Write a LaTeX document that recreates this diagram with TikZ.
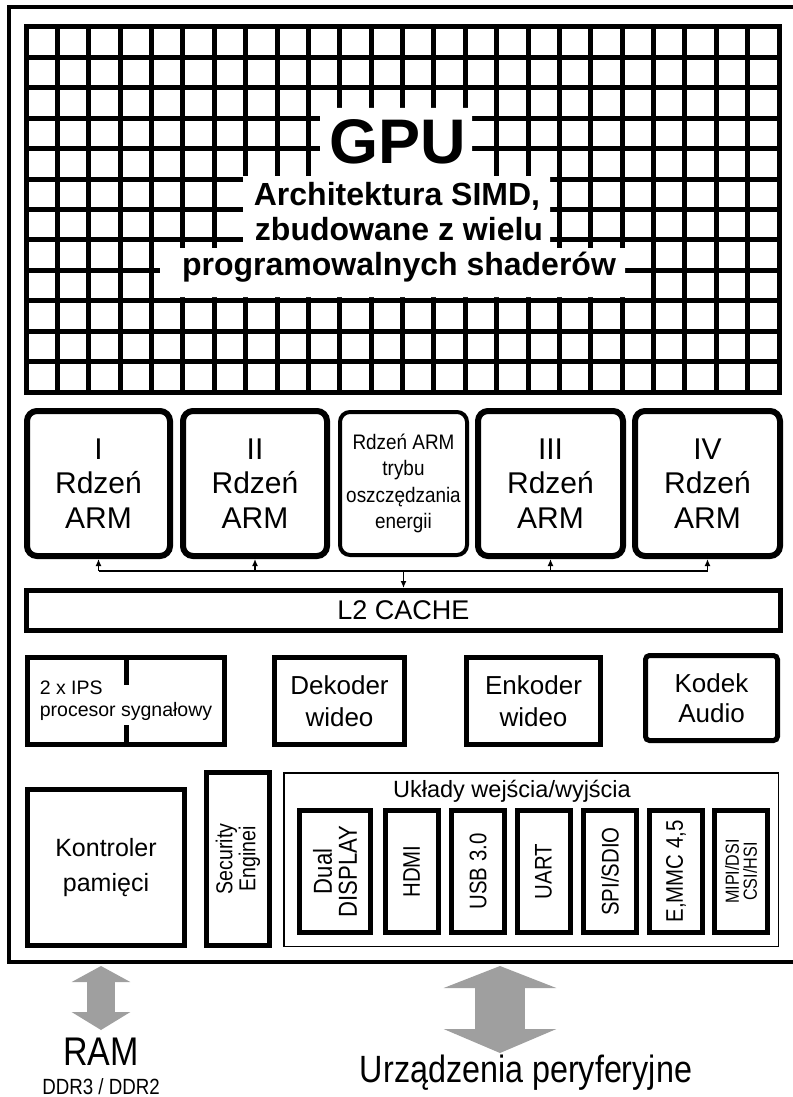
\documentclass[tikz,border=0pt]{standalone}
\usepackage{fontspec}
\setmainfont{Liberation Sans}
\newfontfamily\narrowsf[FakeStretch=0.85]{Liberation Sans}
\newfontfamily\semisf[FakeStretch=0.9]{Liberation Sans}
\usetikzlibrary{positioning,arrows.meta}

\begin{document}
\begin{tikzpicture}[x=0.5pt,y=-0.5pt,
  core/.style={draw,line width=3pt,rounded corners=5pt,minimum width=72.5pt,minimum height=72.5pt,align=center,inner sep=0pt,font=\fontsize{15}{17.25}\selectfont},
  blk/.style={draw,line width=2.5pt,align=center,inner sep=0pt,minimum height=43.5pt,font=\fontsize{13}{16}\selectfont},
  io/.style={draw,line width=2.5pt,rotate=90,minimum width=61pt,minimum height=26.5pt,align=center,inner sep=0pt,font=\narrowsf\fontsize{12}{12}\selectfont},
  grid/.style={line width=2.5pt},
  bus/.style={line width=0.75pt},
  tip/.style={-{Latex[length=3.5pt,width=3pt]}},
  fatram/.style={draw=gray!75,line width=14pt,{Triangle[length=8pt,width=29pt]}-{Triangle[length=9pt,width=29pt]}},
  fatdev/.style={draw=gray!75,line width=25pt,{Triangle[length=11pt,width=56pt]}-{Triangle[length=12pt,width=56pt]}}
]
\useasboundingbox (0,0) rectangle (792,1097);

% chip outline, right side runs off the page
\draw[line width=2pt] (830,7) -- (9,7) -- (9,962) -- (830,962);

% GPU
\draw[grid] (26,27) rectangle (779,392);
\foreach \i in {1,...,23}
  \draw[grid] (26+\i*31.375,27) -- (26+\i*31.375,392);
\foreach \j in {1,...,11}
  \draw[grid] (26,27+\j*30.417) -- (779,27+\j*30.417);
\fill[white] (320,108) -- (472,108) -- (472,176) -- (550,176) -- (550,248) -- (625,248)
  -- (625,297) -- (160,297) -- (160,248) -- (243,248) -- (243,176) -- (320,176) -- cycle;
\node[anchor=base,inner sep=0pt,font=\bfseries\fontsize{31.5}{32}\selectfont] (gpu) at (397.5,163) {GPU};
\node[anchor=base,inner sep=0pt,font=\bfseries\fontsize{16}{17.5}\selectfont] (simd) at (397,205) {Architektura SIMD,};
\node[anchor=base,inner sep=0pt,font=\bfseries\fontsize{16}{17.5}\selectfont] (zbud) at (399,240) {zbudowane z wielu};
\node[anchor=base,inner sep=0pt,font=\bfseries\fontsize{16}{17.5}\selectfont] (shad) at (399,275) {programowalnych shaderów};

% rdzenie
\node[core,minimum width=71.5pt] (c1) at (98.5,483.5) {I\\Rdzeń\\ARM};
\node[core,minimum width=72pt] (c2) at (255,483.5) {II\\Rdzeń\\ARM};
\node[core,line width=2pt,minimum width=63.5pt,minimum height=71.5pt,font=\semisf\fontsize{10.5}{13.2}\selectfont] (ps) at (403.5,483.5) {Rdzeń ARM\\trybu\\oszczędzania\\energii};
\node[core] (c3) at (550.5,483.5) {III\\Rdzeń\\ARM};
\node[core] (c4) at (707.5,483.5) {IV\\Rdzeń\\ARM};

\node[blk,minimum width=377pt,minimum height=20pt,font=\fontsize{13.5}{16}\selectfont] (l2) at (403.5,610.5) {L2 CACHE};

\coordinate (bus) at (0,571);
\draw[bus] (c1.south |- bus) -- (c4.south |- bus);
\foreach \n in {c1,c2,c3,c4}
  \draw[bus,tip] (\n.south |- bus) -- (\n.south);
\draw[bus,tip] (ps.south |- bus) -- (l2.north);

% multimedia
\node[blk,minimum width=98.5pt,align=left,font=\fontsize{9.75}{11}\selectfont] (ips) at (126,701) {2 x IPS\\procesor sygnałowy};
\draw[line width=2.5pt] (ips.north) -- ++(0,29.5);
\draw[line width=2.5pt] (ips.south) -- ++(0,-22.5);
\node[blk,minimum width=65pt] (dek) at (339.5,701) {Dekoder\\wideo};
\node[blk,minimum width=67pt] (enk) at (533.5,701) {Enkoder\\wideo};
\node[blk,minimum width=66pt,minimum height=42.5pt,rounded corners=2pt,font=\fontsize{13}{15}\selectfont] (kod) at (711.5,698) {Kodek\\Audio};

% pamiec i I/O
\node[blk,minimum width=78.5pt,minimum height=78pt,font=\fontsize{12.5}{17.5}\selectfont] (mem) at (106,867.5) {Kontroler\\pamięci};
\node[blk,rotate=90,minimum width=86.5pt,minimum height=31.5pt,font=\narrowsf\fontsize{11.5}{11.5}\selectfont] (sec) at (238,859) {Security\\Enginei};
\node[draw,line width=0.75pt,inner sep=0pt,minimum width=247.25pt,minimum height=86.75pt] (ioall) at (531,859.5) {};
\node[anchor=base,inner sep=0pt,font=\fontsize{11.75}{14}\selectfont] (iotitle) at (512,797) {Układy wejścia/wyjścia};

\node[io,minimum height=35.5pt,font=\narrowsf\fontsize{13}{12.5}\selectfont] (disp) at (335,871.5) {Dual\\DISPLAY};
\node[io] (hdmi) at (411.5,871.5) {HDMI};
\node[io] (usb) at (478,871.5) {USB 3.0};
\node[io] (uart) at (543.5,871.5) {UART};
\node[io] (spi) at (610,871.5) {SPI/SDIO};
\node[io] (emmc) at (676,871.5) {E,MMC 4,5};
\node[io,font=\narrowsf\fontsize{9.5}{9}\selectfont] (mipi) at (741,871.5) {MIPI/DSI\\CSI/HSI};

% wyjscia
\node[anchor=base,inner sep=0pt,font=\narrowsf\fontsize{20}{20}\selectfont] (ram) at (101,1065) {RAM};
\node[anchor=base,inner sep=0pt,font=\narrowsf\fontsize{11}{12}\selectfont] (ddr) at (101,1094) {DDR3 / DDR2};
\node[anchor=base,inner sep=0pt,font=\narrowsf\fontsize{19}{19}\selectfont] (dev) at (526,1082) {Urządzenia peryferyjne};

\coordinate (ramtop) at (101,966);
\coordinate (rambot) at (101,1030);
\coordinate (devtop) at (500,966);
\coordinate (devbot) at (500,1053);
\draw[fatram] (ramtop) -- (rambot);
\draw[fatdev] (devtop) -- (devbot);
\end{tikzpicture}
\end{document}
